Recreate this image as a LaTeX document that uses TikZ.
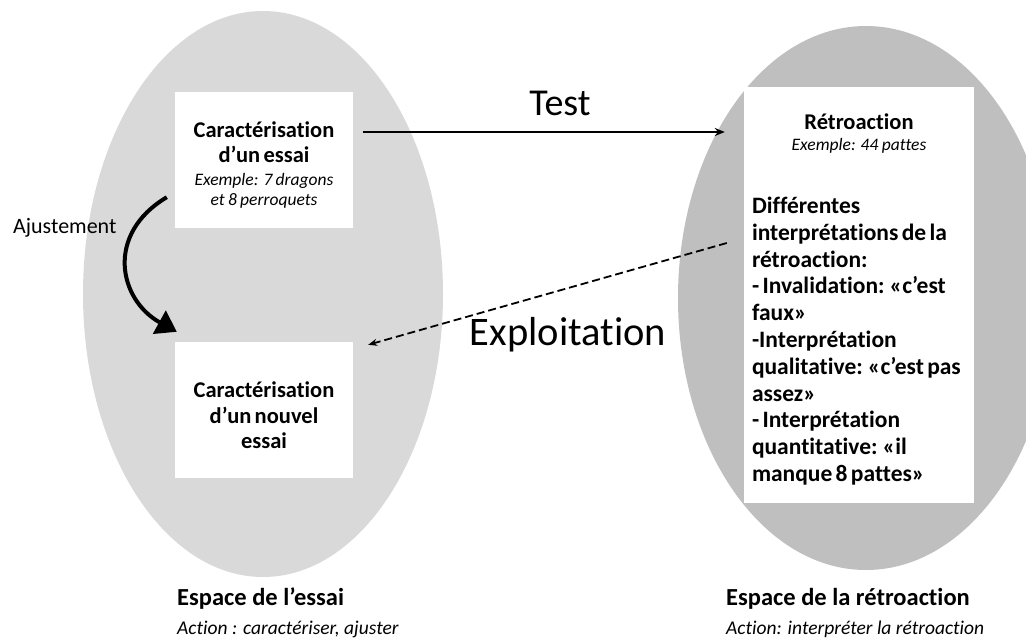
\documentclass[tikz,border=0pt]{standalone}
\usepackage{fontspec}
\setmainfont{Carlito}[Ligatures={TeX,NoCommon}]
\usetikzlibrary{arrows.meta,shapes.geometric}
\definecolor{essaigray}{HTML}{D9D9D9}
\definecolor{retrogray}{HTML}{BFBFBF}

\begin{document}
\begin{tikzpicture}[
    x=1pt, y=-1pt,
    space/.style={ellipse, inner sep=0pt, draw=none},
    box/.style={fill=white, inner xsep=0pt, inner ysep=0pt},
    bigword/.style={anchor=base, inner sep=0pt, font=\fontsize{38}{40}\selectfont},
    spacetitle/.style={anchor=base west, inner sep=0pt, font=\fontsize{24.5}{28}\selectfont\bfseries},
    spaceaction/.style={anchor=base west, inner sep=0pt, font=\fontsize{19.5}{22}\selectfont\itshape},
    testarrow/.style={-{Stealth[length=10pt,width=8pt]}, line width=1.8pt},
    exploitarrow/.style={-{Stealth[length=9pt,width=7pt]}, line width=1.8pt,
                         dash pattern=on 8pt off 4pt},
    adjustarrow/.style={-{Triangle[length=20pt,width=26pt]}, line width=4pt},
  ]

  \useasboundingbox (0,0) rectangle (1026,641);
  \clip (0,0) rectangle (1026,641);

  % === Spaces ===
  \node[space, fill=essaigray, minimum width=360pt, minimum height=566pt]
    (espessai) at (263,294) {};
  \node[space, fill=retrogray, minimum width=376pt, minimum height=544pt]
    (espretro) at (866,298) {};

  % === Boxes (left) ===
  \node[box, text width=178pt, minimum height=136pt] (essai1) at (264,160)
    {\centering\fontsize{22.5}{25}\bfseries\rule{0pt}{26pt}Caractérisation\\ d’un essai\par
     \vspace{3pt}
     \fontsize{17.5}{20}\mdseries\itshape Exemple: 7 dragons\\ et 8 perroquets\par};

  \node[box, text width=178pt, minimum height=136pt] (essai2) at (264,410)
    {\centering\fontsize{22.5}{25.5}\bfseries\rule{0pt}{27pt}Caractérisation\\ d’un nouvel\\ essai\par};

  % === Box (right) ===
  \node[box, inner xsep=8pt, text width=214pt, minimum height=416pt] (retro) at (859,295)
    {{\centering\fontsize{22.5}{21}\bfseries\rule{0pt}{25pt}Rétroaction\\
      \fontsize{17.5}{21}\mdseries\itshape Exemple: 44 pattes\par}
     \vspace{36pt}
     {\raggedright\fontsize{23.5}{26.8}\bfseries Différentes\\
      interprétations de la\\
      rétroaction:\\
      - Invalidation: «c'est\\
      faux»\\
      -Interprétation\\
      qualitative: «c’est pas\\
      assez»\\
      - Interprétation\\
      quantitative: «il\\
      manque 8 pattes»\par}};

  % === Test / Exploitation ===
  \coordinate (testA) at ([xshift=10pt,yshift=28pt]essai1.east);
  \draw[testarrow, shorten >=19pt] (testA) -- (testA -| retro.west);
  \node[bigword] (testlbl) at (560,115) {Test};

  \draw[exploitarrow] ([xshift=-17pt,yshift=52pt]retro.west)
    -- ([xshift=15pt,yshift=-3pt]essai2.north east);
  \node[bigword, font=\fontsize{40.5}{42}\selectfont] (exploitlbl) at (568,345) {Exploitation};

  % === Ajustement ===
  \draw[adjustarrow] ([xshift=-8pt,yshift=31pt]essai1.south west)
    .. controls +(-62,37) and +(-58,-32) .. ([xshift=2pt,yshift=10pt]essai2.north west);
  \node[anchor=base west, inner sep=0pt, font=\fontsize{22}{24}\selectfont]
    (adjustlbl) at (13,233) {Ajustement};

  % === Space labels ===
  \node[spacetitle] (essaititle) at (177,605) {Espace de l’essai};
  \node[spaceaction] (essaiaction) at (177,634) {Action : caractériser, ajuster};
  \node[spacetitle] (retrotitle) at (726,605) {Espace de la rétroaction};
  \node[spaceaction] (retroaction) at (726,634) {Action: interpréter la rétroaction};

\end{tikzpicture}
\end{document}
